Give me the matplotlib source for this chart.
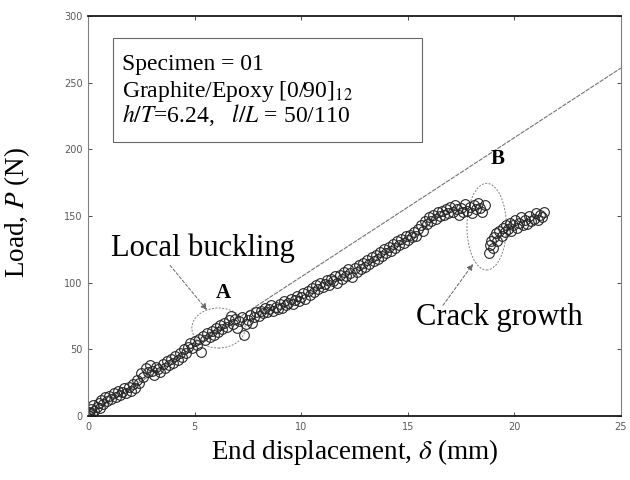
"""Load-displacement curve with local buckling and crack growth marks."""

import matplotlib

matplotlib.use("Agg")
import matplotlib.pyplot as plt
from matplotlib.patches import Ellipse, Rectangle

plt.rcParams["mathtext.fontset"] = "stix"

# measured points before the crack jump
pre_x = [0.00, 0.05, 0.10, 0.15, 0.20, 0.25, 0.30, 0.40, 0.50, 0.55, 0.60, 0.70, 0.80, 0.90,
         1.00, 1.10, 1.20, 1.30, 1.40, 1.50, 1.60, 1.70, 1.80, 1.90, 2.00, 2.10, 2.20, 2.30,
         2.40, 2.50, 2.60, 2.70, 2.80, 2.90, 3.00, 3.10, 3.20, 3.30, 3.40, 3.50, 3.60, 3.70,
         3.80, 3.90, 4.00, 4.10, 4.20, 4.30, 4.40, 4.50, 4.60, 4.70, 4.80, 4.90, 5.00, 5.10,
         5.20, 5.30, 5.40, 5.50, 5.60, 5.70, 5.80, 5.90, 6.00, 6.10, 6.20, 6.30, 6.40, 6.50,
         6.60, 6.70, 6.80, 6.90, 7.00, 7.10, 7.20, 7.30, 7.40, 7.50, 7.60, 7.70, 7.80, 7.90,
         8.00, 8.10, 8.20, 8.30, 8.40, 8.50, 8.60, 8.70, 8.80, 8.90, 9.00, 9.10, 9.20, 9.30,
         9.40, 9.50, 9.60, 9.70, 9.80, 9.90, 10.00, 10.10, 10.20, 10.30, 10.40, 10.50, 10.60,
         10.70, 10.80, 10.90, 11.00, 11.10, 11.20, 11.30, 11.40, 11.50, 11.60, 11.70, 11.80,
         11.90, 12.00, 12.10, 12.20, 12.30, 12.40, 12.50, 12.60, 12.70, 12.80, 12.90, 13.00,
         13.10, 13.20, 13.30, 13.40, 13.50, 13.60, 13.70, 13.80, 13.90, 14.00, 14.10, 14.20,
         14.30, 14.40, 14.50, 14.60, 14.70, 14.80, 14.90, 15.00, 15.10, 15.20, 15.30, 15.40,
         15.50, 15.60, 15.70, 15.80, 15.90, 16.00, 16.10, 16.20, 16.30, 16.40, 16.50, 16.60,
         16.70, 16.80, 16.90, 17.00, 17.10, 17.20, 17.30, 17.40, 17.50, 17.60, 17.70, 17.80,
         17.90, 18.00, 18.10, 18.20, 18.30, 18.40, 18.50, 18.60]
pre_y = [1, 3, 0, 5, 2, 8, 4, 7, 10, 6, 12, 9, 14, 11,
         15, 13, 17, 14, 19, 16, 18, 21, 17, 22, 19, 24, 21, 27,
         25, 32, 29, 36, 33, 38, 34, 31, 37, 35, 33, 39, 36, 41,
         38, 43, 40, 45, 42, 47, 44, 50, 47, 52, 55, 51, 56, 53,
         58, 48, 60, 57, 62, 59, 64, 61, 66, 63, 68, 65, 70, 67,
         72, 75, 69, 73, 66, 71, 74, 61, 69, 72, 76, 70, 74, 78,
         75, 79, 77, 81, 78, 80, 83, 79, 82, 80, 84, 81, 86, 83,
         85, 88, 84, 87, 90, 86, 89, 92, 88, 94, 91, 96, 93,
         98, 95, 100, 97, 99, 102, 98, 103, 101, 105, 100, 106,
         103, 108, 105, 110, 107, 104, 111, 108, 113, 110, 115, 112,
         117, 114, 119, 116, 121, 118, 123, 120, 125, 122, 127, 124,
         129, 126, 131, 128, 133, 130, 135, 132, 136, 134, 138, 135,
         140, 143, 139, 146, 144, 149, 146, 151, 148, 153, 150, 154,
         151, 155, 152, 157, 153, 158, 155, 151, 156, 153, 159, 154,
         157, 152, 158, 155, 160, 156, 153, 158]

# measured points after the crack jump
post_x = [18.80, 18.85, 18.90, 19.00, 19.05, 19.15, 19.20, 19.30, 19.40, 19.45, 19.55, 19.60,
          19.70, 19.80, 19.85, 19.95, 20.05, 20.10, 20.20, 20.30, 20.40, 20.50, 20.60, 20.70,
          20.80, 20.90, 21.00, 21.10, 21.20, 21.30, 21.40]
post_y = [122, 128, 131, 126, 134, 137, 131, 139, 135, 141, 138, 143,
          140, 145, 139, 143, 147, 141, 145, 149, 143, 147, 144, 150,
          146, 148, 152, 147, 151, 149, 153]

# linear reference line
ref_x = [0, 25]
ref_y = [0, 261]

SERIF = ["Liberation Serif", "DejaVu Serif"]
ARROW = dict(arrowstyle="-|>", color="0.4", linewidth=0.7, linestyle=(0, (3, 2)),
             shrinkA=0, shrinkB=0, mutation_scale=9)

fig = plt.figure(figsize=(6.3, 4.8), dpi=100)
ax = fig.add_axes([0.1397, 0.1333, 0.846, 0.8333])

ax.plot(ref_x, ref_y, color="0.45", linewidth=0.8, linestyle=(0, (4, 1)))
ax.plot(pre_x + post_x, pre_y + post_y, linestyle="none", marker="o", markersize=7,
        markerfacecolor="none", markeredgecolor="0.15", markeredgewidth=0.8)

ax.add_patch(Ellipse((6.12, 66), 2.5, 30, fill=False, edgecolor="0.5",
                     linewidth=0.7, linestyle=(0, (2, 1.5))))
ax.add_patch(Ellipse((18.7, 142), 1.85, 65, fill=False, edgecolor="0.5",
                     linewidth=0.7, linestyle=(0, (2, 1.5))))

ax.text(5.37, 126, "Local buckling", ha="center", va="center", fontsize=22, family=SERIF)
ax.annotate("", xy=(5.58, 79.5), xytext=(3.85, 113), arrowprops=ARROW)
ax.text(6.33, 92, "A", fontsize=15, family=SERIF, fontweight="bold", ha="center", va="center")
ax.text(19.2, 193, "B", fontsize=15, family=SERIF, fontweight="bold", ha="center", va="center")
ax.text(19.3, 74, "Crack growth", ha="center", va="center", fontsize=22, family=SERIF)
ax.annotate("", xy=(18.06, 114), xytext=(16.65, 83), arrowprops=ARROW)

ax.add_patch(Rectangle((1.17, 205.5), 14.5, 78, fill=False, edgecolor="0.4", linewidth=0.8))
box_lines = ["Specimen = 01", "Graphite/Epoxy [0/90]$_{12}$", "$h/T$=6.24,   $l/L$ = 50/110"]
for line, base in zip(box_lines, (259.5, 239.5, 220.5)):
    ax.text(1.6, base, line, fontsize=17, family=SERIF, va="baseline", ha="left")

ax.set_xlim(0, 25)
ax.set_ylim(0, 300)
ax.set_xticks([0, 5, 10, 15, 20, 25])
ax.set_yticks([0, 50, 100, 150, 200, 250, 300])
ax.tick_params(direction="in", top=True, right=True, length=3, width=0.7,
               labelsize=7, colors="0.3", pad=4)
for label in ax.get_xticklabels() + ax.get_yticklabels():
    label.set_color("0.35")
for side in ("left", "right"):
    ax.spines[side].set_color("0.5")
    ax.spines[side].set_linewidth(0.8)
for side in ("top", "bottom"):
    ax.spines[side].set_color("0.1")
    ax.spines[side].set_linewidth(1.3)

ax.set_xlabel("End displacement, $\\delta$ (mm)", fontsize=19.5, family=SERIF, labelpad=4)
ax.set_ylabel("Load, $P$ (N)", fontsize=19.5, family=SERIF)
ax.yaxis.set_label_coords(-0.105, 0.51)

fig.savefig("out.png", dpi=100)
